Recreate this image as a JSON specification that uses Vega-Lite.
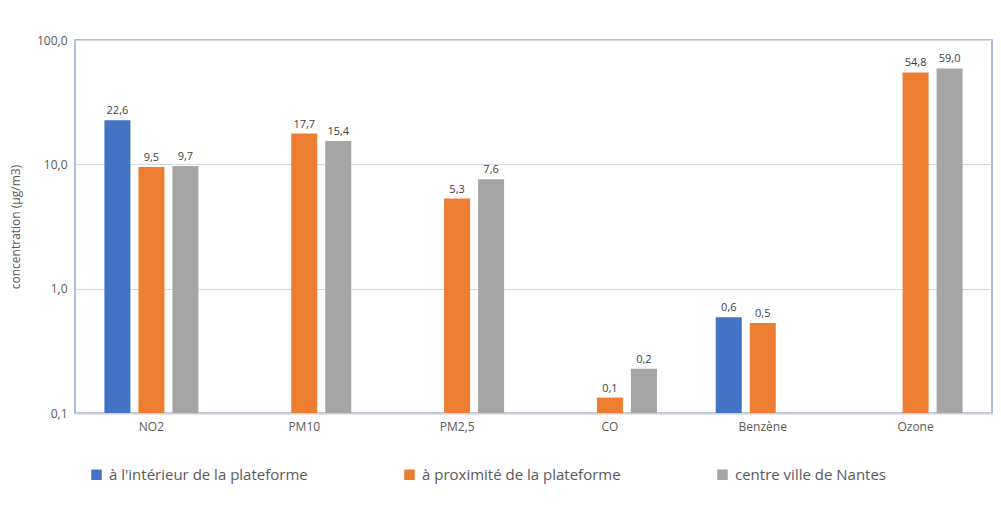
{
  "$schema": "https://vega.github.io/schema/vega-lite/v6.json",
  "autosize": {"type": "none"},
  "width": 917,
  "height": 373,
  "padding": {"left": 75, "top": 40, "right": 9, "bottom": 105},
  "background": "white",
  "config": {
    "locale": {"number": {"decimal": ",", "thousands": " ", "grouping": [3], "currency": ["", " €"]}},
    "font": "Open Sans",
    "view": {"stroke": "#8EA9DB", "strokeWidth": 1.5},
    "axis": {"labelColor": "#595959", "titleColor": "#595959", "labelFont": "Open Sans", "titleFont": "Open Sans"}
  },
  "data": {
    "values": [
      {"polluant": "NO2", "site": "à l'intérieur de la plateforme", "valeur": 22.6},
      {"polluant": "NO2", "site": "à proximité de la plateforme", "valeur": 9.5},
      {"polluant": "NO2", "site": "centre ville de Nantes", "valeur": 9.7},
      {"polluant": "PM10", "site": "à proximité de la plateforme", "valeur": 17.7},
      {"polluant": "PM10", "site": "centre ville de Nantes", "valeur": 15.4},
      {"polluant": "PM2,5", "site": "à proximité de la plateforme", "valeur": 5.3},
      {"polluant": "PM2,5", "site": "centre ville de Nantes", "valeur": 7.6},
      {"polluant": "CO", "site": "à proximité de la plateforme", "valeur": 0.133},
      {"polluant": "CO", "site": "centre ville de Nantes", "valeur": 0.227},
      {"polluant": "Benzène", "site": "à l'intérieur de la plateforme", "valeur": 0.59},
      {"polluant": "Benzène", "site": "à proximité de la plateforme", "valeur": 0.53},
      {"polluant": "Ozone", "site": "à proximité de la plateforme", "valeur": 54.8},
      {"polluant": "Ozone", "site": "centre ville de Nantes", "valeur": 59.0}
    ]
  },
  "encoding": {
    "x": {
      "field": "polluant", "type": "nominal",
      "sort": ["NO2", "PM10", "PM2,5", "CO", "Benzène", "Ozone"],
      "scale": {"paddingInner": 0, "paddingOuter": 0},
      "axis": {"title": null, "labelAngle": 0, "ticks": false, "domainColor": "#D0D0D0", "domainWidth": 2, "labelFontSize": 12, "labelPadding": 8}
    },
    "xOffset": {
      "field": "site", "type": "nominal",
      "sort": ["à l'intérieur de la plateforme", "à proximité de la plateforme", "centre ville de Nantes"],
      "scale": {"paddingInner": 0.235, "paddingOuter": 0.865}
    },
    "y": {
      "field": "valeur", "type": "quantitative",
      "scale": {"type": "log", "domain": [0.1, 100], "nice": false},
      "axis": {"title": "concentration (µg/m3)", "values": [0.1, 1, 10, 100], "format": ".1f", "ticks": false, "domain": false, "gridColor": "#D9D9D9", "labelFontSize": 12, "labelPadding": 8, "titleFontSize": 12, "titleFontWeight": "normal", "titlePadding": 14}
    }
  },
  "layer": [
    {
      "mark": {"type": "bar"},
      "encoding": {
        "y2": {"datum": 0.1},
        "color": {
          "field": "site", "type": "nominal",
          "sort": ["à l'intérieur de la plateforme", "à proximité de la plateforme", "centre ville de Nantes"],
          "scale": {"range": ["#4472C4", "#ED7D31", "#A5A5A5"]},
          "legend": {
            "title": null, "orient": "none", "direction": "horizontal",
            "legendX": 14, "legendY": 427,
            "symbolType": "square", "symbolSize": 110, "symbolStrokeWidth": 0,
            "labelFontSize": 15, "labelColor": "#595959", "labelFont": "Open Sans",
            "labelOffset": 5, "columnPadding": 94, "labelLimit": 400
          }
        }
      }
    },
    {
      "mark": {"type": "text", "dy": -9, "fontSize": 11, "color": "#404040", "font": "Open Sans"},
      "encoding": {
        "text": {"field": "valeur", "type": "quantitative", "format": ".1f"}
      }
    }
  ]
}
